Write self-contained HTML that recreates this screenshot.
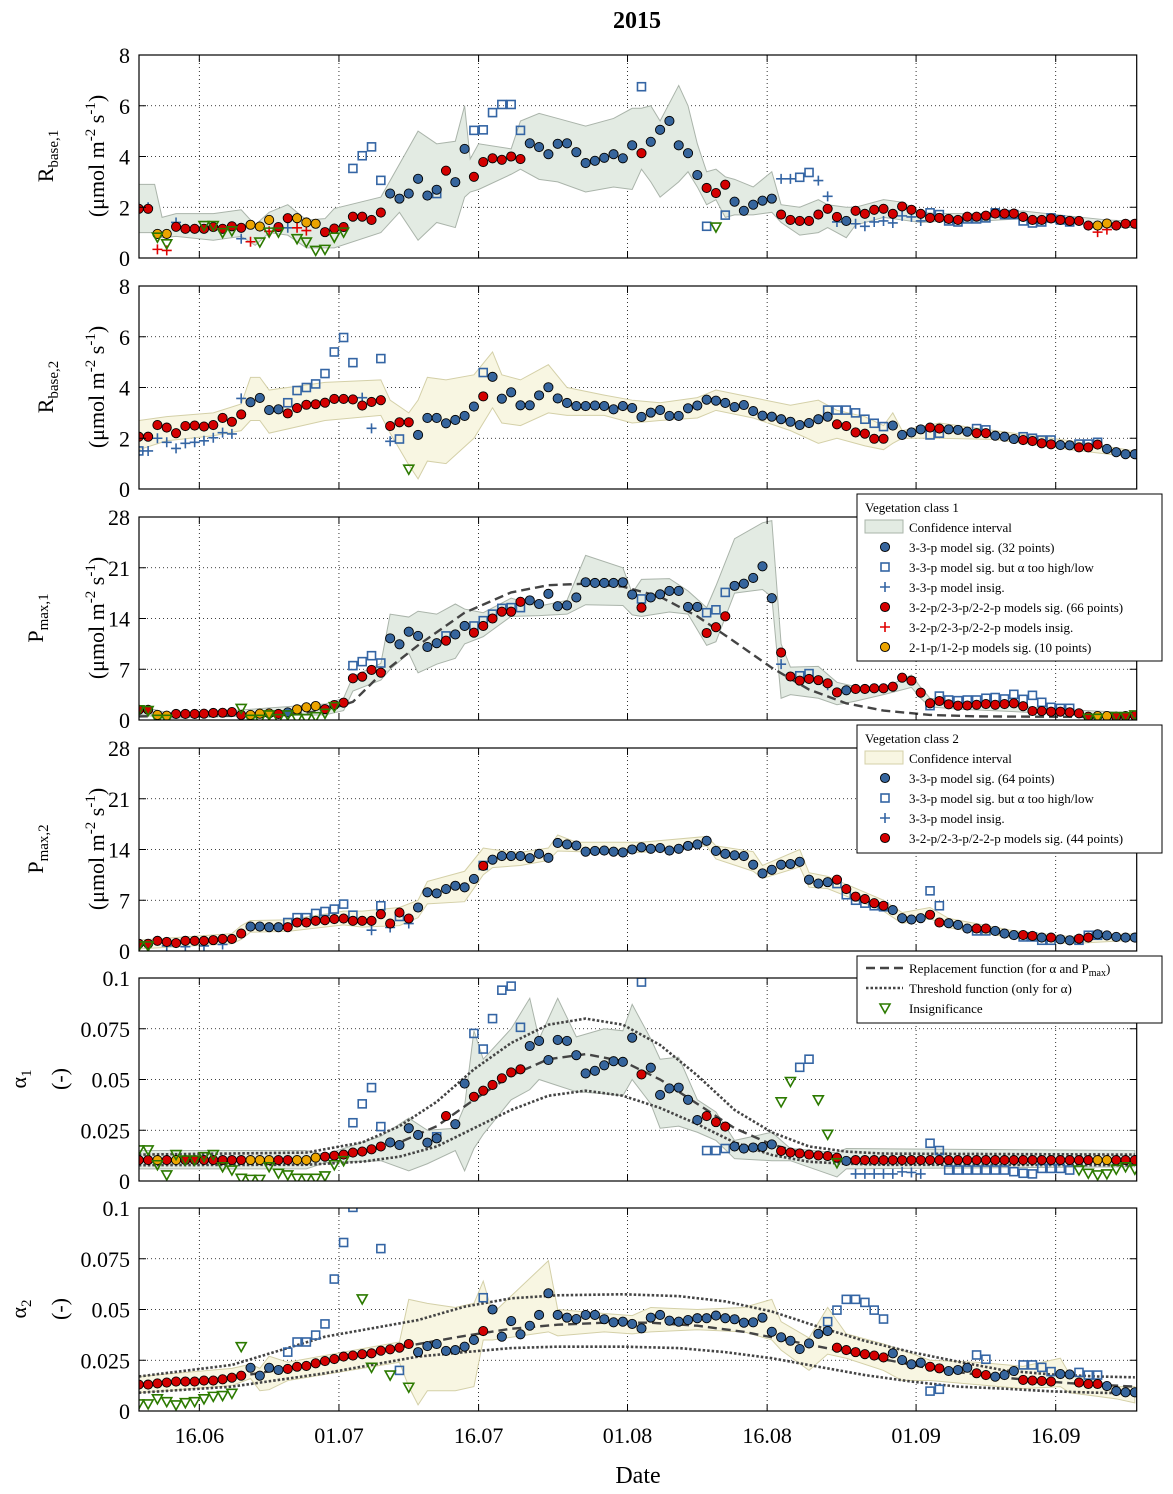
<!DOCTYPE html>
<html><head><meta charset="utf-8"><style>
html,body{margin:0;padding:0;background:#fff}
svg{display:block;font-family:"Liberation Serif","DejaVu Serif",serif}
</style></head><body>
<svg id="chart" xmlns="http://www.w3.org/2000/svg" width="1173" height="1494" viewBox="0 0 1173 1494">
<rect x="0" y="0" width="1173" height="1494" fill="#fff"/>
<text x="637" y="28" text-anchor="middle" font-size="24" font-weight="bold">2015</text>
<text x="638" y="1483" text-anchor="middle" font-size="24">Date</text>
<g id="layer"></g>
<g font-size="22">
 <text transform="translate(53,156) rotate(-90)" text-anchor="middle">R<tspan font-size="15" dy="5">base,1</tspan></text>
 <text transform="translate(104,156) rotate(-90)" text-anchor="middle">(μmol m<tspan font-size="15" dy="-9">-2</tspan><tspan dy="9"> s</tspan><tspan font-size="15" dy="-9">-1</tspan><tspan dy="9">)</tspan></text>
</g>
<g font-size="22">
 <text transform="translate(53,387) rotate(-90)" text-anchor="middle">R<tspan font-size="15" dy="5">base,2</tspan></text>
 <text transform="translate(104,387) rotate(-90)" text-anchor="middle">(μmol m<tspan font-size="15" dy="-9">-2</tspan><tspan dy="9"> s</tspan><tspan font-size="15" dy="-9">-1</tspan><tspan dy="9">)</tspan></text>
</g>
<g font-size="22">
 <text transform="translate(43,618) rotate(-90)" text-anchor="middle">P<tspan font-size="15" dy="5">max,1</tspan></text>
 <text transform="translate(104,618) rotate(-90)" text-anchor="middle">(μmol m<tspan font-size="15" dy="-9">-2</tspan><tspan dy="9"> s</tspan><tspan font-size="15" dy="-9">-1</tspan><tspan dy="9">)</tspan></text>
</g>
<g font-size="22">
 <text transform="translate(43,849) rotate(-90)" text-anchor="middle">P<tspan font-size="15" dy="5">max,2</tspan></text>
 <text transform="translate(104,849) rotate(-90)" text-anchor="middle">(μmol m<tspan font-size="15" dy="-9">-2</tspan><tspan dy="9"> s</tspan><tspan font-size="15" dy="-9">-1</tspan><tspan dy="9">)</tspan></text>
</g>
<g font-size="22">
 <text transform="translate(26,1079) rotate(-90)" text-anchor="middle">α<tspan font-size="15" dy="5">1</tspan></text>
 <text transform="translate(67,1079) rotate(-90)" text-anchor="middle">(-)</text>
</g>
<g font-size="22">
 <text transform="translate(26,1309) rotate(-90)" text-anchor="middle">α<tspan font-size="15" dy="5">2</tspan></text>
 <text transform="translate(67,1309) rotate(-90)" text-anchor="middle">(-)</text>
</g>
</svg>
<script>
// ---------- x axis data ----------
const xTickDays = [0, 15, 30, 46, 61, 77, 92];
const xTickLabels = ["16.06", "01.07", "16.07", "01.08", "16.08", "01.09", "16.09"];

// ---------- Panel 1: R_base,1 ----------
const p1Type = "rroorrrrrr"+"rrooorrooo"+"rrrrrrrbbb"+"bbbrbbrrrr"+"rrbbbbbbbb"+"bbbbrbbbbb"+"brrrbbbbbr"+"rrrrrrbrrr"+"rrrrrrrrrr"+"rrrrrrrrrr"+"rrroorrr";
const p1Val = [1.94,1.94,0.95,0.95,1.23,1.15,1.15,1.15,1.22,1.15,1.25,1.19,1.31,1.24,1.5,1.22,1.57,1.57,1.4,1.35,1.02,1.16,1.22,1.63,1.63,1.5,1.79,2.54,2.34,2.54,3.12,2.46,2.69,3.44,2.99,4.3,3.2,3.78,3.93,3.87,4.0,3.9,4.52,4.37,4.09,4.5,4.52,4.17,3.74,3.83,3.95,4.09,3.93,4.44,4.13,4.58,5.05,5.4,4.44,4.13,3.27,2.76,2.56,2.89,2.22,1.86,2.1,2.26,2.34,1.71,1.5,1.46,1.46,1.71,1.94,1.62,1.46,1.86,1.74,1.9,1.94,1.74,2.03,1.9,1.74,1.58,1.58,1.54,1.5,1.63,1.63,1.67,1.75,1.75,1.75,1.62,1.5,1.5,1.56,1.5,1.46,1.46,1.28,1.28,1.36,1.28,1.35,1.35];
const p1AltI = [0,1,2,3,4,11,12,14,16,17,18,23,24,25,26,32,36,37,38,39,40,41,54,61,63,69,70,71,72,73,74,75,77,78,79,80,81,82,83,84,85,86,87,88,89,90,91,92,93,94,95,96,97,98,99,100,103,104];
const p1AltT = "ppqqppqqpqq"+"ssssssssssssss"+"ppss"+"ppppppppppp"+"ssssssssssssssss"+"qq";
const p1AltV = [2.0,2.0,0.34,0.3,1.4,0.76,0.64,1.05,1.19,1.19,1.08,3.53,4.03,4.38,3.06,2.54,5.03,5.05,5.73,6.05,6.05,5.03,6.75,1.25,1.69,3.12,3.12,3.18,3.37,3.05,2.43,1.42,1.35,1.25,1.42,1.46,1.38,1.66,1.62,1.46,1.78,1.71,1.46,1.42,1.54,1.54,1.58,1.78,1.71,1.71,1.46,1.38,1.42,1.58,1.5,1.42,1.02,1.12];
const p1TriI = [2,3,7,8,9,10,13,14,15,17,18,19,20,21,22,62];
const p1TriV = [0.82,0.56,1.28,1.28,1.0,1.07,0.63,1.02,1.02,0.76,0.63,0.3,0.34,0.82,1.02,1.22];
const p1BandI = [0,1.7,2.5,4,8,11,12.5,14,16,18,20,21,26,28,30,32,34,35,35.6,36.5,40,41,43,45,48,51,53,54,55,56,58,59,60,61,62,63,64,66,68,69,71,73,74,76,77,80,82,84,86,90,95,100,104,107];
const p1BandLo = [1.0,1.0,0.8,0.85,0.7,0.85,0.5,1.0,0.9,0.4,0.4,0.4,1.0,1.8,0.7,1.4,1.2,2.4,2.6,2.7,3.3,3.5,3.1,3.0,2.6,2.8,2.7,3.5,3.0,2.4,3.0,3.4,2.8,2.1,2.3,1.6,1.7,1.7,1.8,1.4,0.9,1.0,1.2,0.8,1.3,1.6,1.5,1.4,1.45,1.45,1.55,1.4,1.2,1.2];
const p1BandHi = [2.9,2.9,1.6,1.75,1.75,1.9,1.3,1.8,2.1,1.5,1.55,1.95,2.4,3.7,5.0,4.5,4.6,6.0,3.9,4.5,4.3,5.4,5.7,5.5,5.2,5.5,5.9,5.9,6.0,5.4,6.8,6.0,4.5,3.4,3.5,3.2,3.1,2.8,3.4,2.1,2.0,2.3,2.1,2.0,2.0,2.3,2.2,1.8,1.75,1.75,1.85,1.65,1.5,1.45];

// ---------- Panel 2: R_base,2 ----------
const p2Type = "rrrrrrrrrr"+"rrbbbbrrrr"+"rrrrrrrrrr"+"bbbbbbbrbb"+"bbbbbbbbbb"+"bbbbbbbbbb"+"bbbbbbbbbb"+"bbbbbrrrrr"+"rbbbbrrbbb"+"rrbbbrrrrb"+"brrrbbbb";
const p2Val = [2.06,2.06,2.52,2.42,2.2,2.48,2.5,2.46,2.52,2.8,2.65,2.94,3.42,3.59,3.11,3.14,2.98,3.19,3.32,3.34,3.4,3.55,3.55,3.53,3.29,3.43,3.5,2.48,2.63,2.63,2.13,2.8,2.8,2.59,2.72,2.88,3.25,3.65,4.42,3.56,3.81,3.3,3.3,3.69,4.01,3.57,3.39,3.27,3.27,3.29,3.27,3.14,3.27,3.19,2.84,3.01,3.11,2.88,2.88,3.18,3.29,3.52,3.48,3.39,3.23,3.31,3.07,2.89,2.85,2.75,2.65,2.52,2.6,2.75,2.85,2.55,2.48,2.23,2.18,1.98,1.98,2.5,2.13,2.23,2.35,2.42,2.38,2.35,2.33,2.26,2.2,2.2,2.1,2.06,1.97,1.93,1.89,1.8,1.76,1.73,1.72,1.64,1.64,1.75,1.58,1.45,1.37,1.37];
const p2AltI = [0,0,1,2,3,4,5,6,7,8,9,10,11,16,17,18,19,20,21,22,23,24,25,26,27,28,37,74,75,76,77,78,79,80,85,86,90,91,95,96,97,98,101,102,103];
const p2AltT = "s"+"pppppppppppp"+"ssssssss"+"ppsps"+"s"+"sssssss"+"ss"+"ss"+"ssss"+"sss";
const p2AltV = [1.5,1.5,1.5,2.0,1.84,1.6,1.8,1.84,1.9,2.02,2.22,2.17,3.57,3.4,3.88,4.0,4.14,4.55,5.4,5.97,4.98,3.6,2.39,5.14,1.88,1.97,4.59,3.11,3.11,3.11,3.0,2.75,2.59,2.46,2.13,2.2,2.38,2.33,2.06,2.0,1.93,1.93,1.77,1.77,1.84];
const p2TriI = [29];
const p2TriV = [0.78];
const p2BandI = [0,3,8,11,12,13,14,20,26,27,29,30,31,33,36,38,39,41,44,46,50,53,56,60,62,66,70,73,75,78,80,81,82,86,92,100,107];
const p2BandLo = [1.55,1.9,2.1,2.3,2.7,2.7,2.2,2.7,2.9,2.2,0.95,0.4,1.1,1.0,2.0,3.2,2.6,2.5,3.0,2.9,2.9,2.6,2.7,2.8,3.1,2.8,2.3,1.8,2.0,1.7,1.55,1.8,2.0,2.0,1.95,1.55,1.25];
const p2BandHi = [2.7,2.85,3.0,3.35,4.4,4.4,3.9,4.2,4.3,3.5,3.0,3.5,4.4,4.3,4.5,5.4,4.5,4.3,4.9,4.0,3.7,3.5,3.4,3.6,3.9,3.6,3.3,3.5,3.1,2.85,2.5,3.0,2.3,2.6,2.3,1.9,1.5];

// ---------- Panel 3: P_max,1 ----------
const p3Type = "rroorrrrrr"+"rrooorbooo"+"rrrrrrrbbb"+"bbbrbbrrrr"+"rrbbbbbbbb"+"bbbbrbbbbb"+"brrrbbbbbr"+"rrrrrrbrrr"+"rrrrrrrrrr"+"rrrrrrrrrr"+"rrroorrr";
const p3Val = [1.4,1.4,0.7,0.6,0.83,0.83,0.83,0.87,0.97,1.0,1.1,0.7,0.7,0.87,0.9,0.83,1.05,1.47,1.75,1.93,1.5,2.07,2.39,5.75,5.98,6.9,6.53,11.26,10.44,12.18,11.6,10.07,10.6,10.94,11.8,12.97,12.05,12.97,14.0,14.94,14.94,16.3,16.5,16.0,17.4,15.7,15.8,16.9,19.0,18.9,18.9,18.9,19.0,17.3,15.5,16.9,17.33,17.8,17.8,15.6,15.6,12.0,12.8,14.3,18.5,18.8,19.6,21.2,16.8,9.3,6.0,5.43,5.66,5.5,5.06,3.8,4.1,4.28,4.28,4.37,4.37,4.6,5.84,5.43,3.77,2.3,2.62,2.16,1.98,2.0,2.1,2.2,2.1,2.2,2.3,1.9,1.24,1.24,1.15,1.15,1.06,0.92,0.46,0.55,0.55,0.46,0.55,0.6];
const p3AltI = [23,24,25,26,33,36,37,38,39,40,41,54,61,62,63,69,71,72,74,85,86,87,88,89,90,91,92,93,94,95,96,97,98,99,100];
const p3AltT = "sssssssssssssss"+"pssp"+"ssssssssssssssss";
const p3AltV = [7.5,8.05,8.87,7.86,11.6,12.97,13.7,14.6,15.4,15.5,15.5,16.7,14.8,15.2,17.6,7.7,6.1,6.4,4.8,1.98,3.3,2.76,2.67,2.76,2.76,3.0,3.1,2.9,3.54,2.85,3.4,2.44,1.75,1.61,1.61];
const p3TriI = [0,1,2,3,11,12,13,14,15,16,17,18,19,20,21,102,103,105,106,107];
const p3TriV = [1.4,1.3,0.1,0.1,1.6,0.1,0.1,0.7,0.2,0.7,0.2,0.2,0.46,0.92,1.84,0.23,0.23,0.46,0.46,0.7];
const p3BandI = [0,3,10,20,22,23,26,27,29,30,32,34,35,37,40,43,46,48,52,53,54,57,59,61,62,64,67,68,69,70,73,75,77,80,83,84,85,88,100,107];
const p3BandLo = [0.8,0.2,0.5,0.7,1.3,4.0,5.5,7.0,9.2,6.5,7.7,8.5,10.5,11.5,14.3,14.4,14.6,15.9,15.8,14.5,14.3,14.9,14.6,10.3,10.8,17.5,18.0,17.0,3.0,3.5,3.0,2.1,2.6,3.5,4.5,3.0,1.8,1.5,0.8,0.3];
const p3BandHi = [2.0,1.0,1.3,2.2,3.0,6.0,7.8,14.6,14.2,15.0,14.6,16.0,15.3,14.8,16.8,15.7,16.5,22.7,21.0,17.5,19.4,19.5,17.8,15.5,18.5,25.0,27.2,27.5,10.5,7.3,7.4,5.2,4.6,4.4,6.2,4.5,3.0,2.5,1.4,1.0];
const p3RepI = [0,15,20,23,26,30,35,40,44,48,52,56,60,64,68,72,76,80,85,90,107];
const p3RepV = [0.5,0.6,1.3,2.5,6.3,10.3,14.8,17.6,18.6,18.8,18.4,17.0,14.3,10.8,7.2,4.2,2.3,1.3,0.7,0.5,0.4];

// ---------- Panel 4: P_max,2 ----------
const p4Type = "rrrrrrrrrr"+"rrbbbbrrrr"+"rrrrrrrrrr"+"bbbbbbbrbb"+"bbbbbbbbbb"+"bbbbbbbbbb"+"bbbbbbbbbb"+"bbbbbrrrrr"+"rbbbbrrbbb"+"rrbbbrrbrb"+"brrbbbbb";
const p4Val = [1.0,1.0,1.4,1.25,1.1,1.4,1.4,1.4,1.5,1.66,1.66,2.4,3.37,3.37,3.28,3.28,3.28,3.93,3.93,4.16,4.25,4.4,4.48,4.16,4.16,4.16,5.08,3.79,5.3,4.48,6.0,8.1,7.95,8.55,9.0,8.78,9.94,11.74,12.6,13.1,13.1,13.1,12.8,13.4,12.85,14.9,14.7,14.55,13.7,13.8,13.86,13.7,13.6,14.0,14.3,14.1,14.2,13.86,14.1,14.5,14.7,15.2,13.8,13.4,13.2,13.1,11.9,10.7,11.2,11.9,12.0,12.3,9.84,9.3,9.5,9.84,8.55,7.5,7.16,6.6,6.24,5.64,4.53,4.34,4.53,5.0,3.93,3.83,3.6,3.1,3.1,3.1,2.77,2.4,2.2,2.2,2.08,1.85,1.85,1.62,1.48,1.7,1.85,2.3,2.15,1.94,1.85,1.85];
const p4AltI = [3,5,7,9,16,17,18,19,20,21,22,23,25,26,27,28,29,37,75,76,77,78,79,80,85,86,90,91,95,96,97,98,101,102,103];
const p4AltT = "pppp"+"ssssssss"+"pspsp"+"s"+"ssssss"+"ss"+"ss"+"ssss"+"sss";
const p4AltV = [0.7,0.6,0.7,0.9,3.93,4.6,4.6,5.18,5.45,5.78,6.47,4.94,2.87,6.24,3.24,4.76,3.79,11.8,9.3,7.76,7.0,6.6,6.24,6.1,8.3,6.24,2.77,2.77,1.94,1.94,1.48,1.48,1.48,2.17,2.17];
const p4TriI = [0,1];
const p4TriV = [0.7,0.7];
const p4BandI = [0,10,11,12,16,22,24,28,30,31,35,37,38,41,44,45,47,54,61,62,66,67,71,72,74,80,82,85,87,94,100,107];
const p4BandLo = [0.3,1.0,1.6,2.6,2.7,3.6,3.3,3.5,4.6,6.5,6.8,10.5,11.5,11.8,12.5,13.8,13.7,13.6,14.5,12.7,11.0,10.0,11.6,8.8,8.6,5.5,3.8,4.5,3.2,1.8,1.0,1.5];
const p4BandHi = [1.5,2.4,3.5,4.2,4.3,5.5,5.5,6.0,7.0,9.6,11.0,14.2,14.0,13.6,14.2,16.0,15.0,15.0,15.8,14.5,13.7,11.8,14.0,10.8,10.3,7.0,5.3,6.0,4.5,2.8,2.0,2.4];

// ---------- Panel 5: alpha_1 ----------
const p5Type = "rrororrrrr"+"rrooorrooo"+"rrrrrrrbbb"+"bbbrbbrrrr"+"rrbbbbbbbb"+"bbbbrbbbbb"+"brrrbbbbbr"+"rrrrrrbrrr"+"rrrrrrrrrr"+"rrrrrrrrrr"+"rrroorrr";
const p5Val = [0.0103,0.0103,0.0103,0.0103,0.0103,0.0103,0.0103,0.0103,0.0103,0.0103,0.0103,0.0103,0.0103,0.0103,0.0103,0.0103,0.0103,0.0103,0.0103,0.0115,0.012,0.0125,0.013,0.014,0.0145,0.0156,0.017,0.019,0.0177,0.026,0.0227,0.0189,0.021,0.032,0.028,0.048,0.0415,0.0445,0.0473,0.0506,0.0535,0.055,0.0665,0.069,0.0596,0.0695,0.069,0.062,0.053,0.0543,0.057,0.059,0.0587,0.0706,0.0525,0.0558,0.0424,0.0456,0.046,0.040,0.030,0.032,0.029,0.0268,0.017,0.016,0.0165,0.0168,0.018,0.0148,0.014,0.0136,0.013,0.0126,0.0123,0.0115,0.0099,0.0103,0.0103,0.0103,0.0103,0.0103,0.0103,0.0103,0.0103,0.0103,0.0103,0.0103,0.0103,0.0103,0.0103,0.0103,0.0103,0.0103,0.0103,0.0103,0.0103,0.0103,0.0103,0.0103,0.0103,0.0103,0.0103,0.0103,0.0103,0.0103,0.0103,0.0103];
const p5AltI = [23,24,25,26,32,36,37,38,39,40,41,54,61,62,63,71,72,77,78,79,80,81,82,83,84,85,86,87,88,89,90,91,92,93,94,95,96,97,98,99,100];
const p5AltT = "sssssssssssssssss"+"pppppppp"+"ssssssssssssssss";
const p5AltV = [0.0287,0.038,0.046,0.0268,0.0218,0.0727,0.065,0.080,0.094,0.096,0.0757,0.098,0.015,0.015,0.016,0.056,0.060,0.0035,0.0035,0.0035,0.0035,0.0035,0.0045,0.0042,0.0035,0.0186,0.015,0.0054,0.0054,0.0054,0.0054,0.0054,0.0054,0.0054,0.0046,0.0038,0.0035,0.0062,0.0062,0.0062,0.0054];
const p5TriI = [0,1,2,3,4,5,6,7,8,9,10,11,12,13,14,15,16,17,18,19,20,21,22,69,70,73,74,75,101,102,103,104,105,106,107];
const p5TriV = [0.0153,0.0153,0.008,0.003,0.013,0.0103,0.0103,0.012,0.013,0.007,0.0054,0.0013,0.0008,0.0008,0.007,0.0038,0.003,0.0013,0.0013,0.0013,0.0025,0.008,0.010,0.039,0.049,0.040,0.023,0.009,0.0054,0.0038,0.003,0.0035,0.0058,0.007,0.0058];
const p5BandI = [0,18,20,26,29,31,34,35,36,37,40,42,43,45,47,50,52,53,55,56,58,60,62,64,68,70,75,76,107];
const p5BandLo = [0.006,0.006,0.009,0.010,0.005,0.0085,0.015,0.005,0.016,0.023,0.040,0.045,0.050,0.047,0.044,0.043,0.042,0.050,0.038,0.026,0.027,0.024,0.020,0.011,0.010,0.010,0.002,0.006,0.007];
const p5BandHi = [0.015,0.015,0.013,0.022,0.031,0.025,0.026,0.037,0.074,0.060,0.075,0.090,0.070,0.090,0.071,0.075,0.074,0.087,0.070,0.060,0.061,0.040,0.034,0.020,0.024,0.016,0.014,0.016,0.015];
const p5CurveI = [0,18,24,28,32,36,40,44,48,52,56,60,64,68,72,76,80,107];
const p5RepV = [0.0103,0.0105,0.014,0.019,0.027,0.040,0.052,0.060,0.0625,0.059,0.050,0.038,0.026,0.018,0.013,0.011,0.0105,0.0103];
const p5UpV = [0.013,0.014,0.019,0.027,0.039,0.055,0.068,0.077,0.080,0.077,0.067,0.052,0.035,0.024,0.017,0.0145,0.0135,0.013];
const p5LoV = [0.0078,0.008,0.0095,0.012,0.017,0.026,0.035,0.042,0.0445,0.042,0.036,0.028,0.019,0.0128,0.0095,0.0085,0.008,0.0078];

// ---------- Panel 6: alpha_2 ----------
const p6Type = "rrrrrrrrrr"+"rrbbbbrrrr"+"rrrrrrrrrr"+"bbbbbbbrbb"+"bbbbbbbbbb"+"bbbbbbbbbb"+"bbbbbbbbbb"+"bbbbbrrrrr"+"rbbbbrrbbb"+"rrbbbrrrrb"+"brrrbbbb";
const p6Val = [0.013,0.013,0.0136,0.014,0.0145,0.0145,0.0145,0.015,0.015,0.0156,0.0164,0.0174,0.0213,0.0174,0.0213,0.0202,0.0207,0.0218,0.0222,0.0235,0.0246,0.0256,0.0268,0.0273,0.028,0.0284,0.0297,0.0304,0.0312,0.033,0.029,0.032,0.033,0.0296,0.030,0.0317,0.035,0.0394,0.050,0.0366,0.0443,0.0378,0.042,0.0473,0.058,0.0473,0.046,0.0453,0.0473,0.0473,0.0452,0.0437,0.044,0.0429,0.0407,0.046,0.0473,0.0445,0.044,0.0448,0.0457,0.0457,0.047,0.0457,0.0452,0.0435,0.0437,0.046,0.039,0.0363,0.0346,0.0305,0.0333,0.038,0.0394,0.0312,0.030,0.029,0.028,0.0273,0.0264,0.0284,0.0251,0.023,0.0238,0.0218,0.021,0.0197,0.0202,0.0213,0.0186,0.0177,0.0169,0.0177,0.0197,0.0153,0.015,0.0148,0.0145,0.0182,0.018,0.014,0.0133,0.0133,0.0123,0.0098,0.0092,0.0092];
const p6AltI = [16,17,18,19,20,21,22,23,26,28,37,74,75,76,77,78,79,80,85,86,90,91,95,96,97,98,101,102,103];
const p6AltT = "sssssssssssssssssssssssssssss";
const p6AltV = [0.029,0.034,0.034,0.0374,0.0429,0.065,0.083,0.1003,0.080,0.020,0.0558,0.044,0.0497,0.055,0.055,0.0535,0.0497,0.0453,0.0098,0.0107,0.0276,0.0255,0.0227,0.0227,0.0215,0.0194,0.019,0.0177,0.0177];
const p6TriI = [0,1,2,3,4,5,6,7,8,9,10,11,24,25,27,29];
const p6TriV = [0.0035,0.0035,0.006,0.0046,0.003,0.0041,0.0046,0.006,0.0072,0.0076,0.0087,0.0317,0.0552,0.0215,0.0177,0.0117];
const p6BandI = [0,10,12,13,14,16,28,29,30,31,34,36,37,38,44,45,50,53,55,60,65,68,69,72,74,76,80,82,85,90,95,99,100,105,107];
const p6BandLo = [0.009,0.0125,0.016,0.010,0.0105,0.015,0.024,0.012,0.003,0.010,0.010,0.012,0.035,0.035,0.039,0.037,0.039,0.038,0.039,0.040,0.039,0.035,0.030,0.020,0.028,0.026,0.020,0.015,0.015,0.013,0.011,0.012,0.009,0.006,0.004];
const p6BandHi = [0.017,0.021,0.023,0.021,0.027,0.024,0.034,0.055,0.054,0.053,0.051,0.053,0.064,0.048,0.074,0.050,0.048,0.047,0.051,0.050,0.051,0.055,0.044,0.036,0.051,0.038,0.033,0.030,0.025,0.024,0.022,0.026,0.018,0.012,0.012];
const p6RepI = [0,10,20,30,35,40,45,50,55,60,65,70,75,80,85,90,95,100,107];
const p6RepV = [0.013,0.0165,0.024,0.033,0.037,0.0405,0.0425,0.0435,0.0435,0.042,0.039,0.0345,0.030,0.0255,0.021,0.018,0.0155,0.0137,0.012];
const p6ThrI = [0,10,20,30,35,40,45,52,58,63,68,73,78,83,88,93,98,103,107];
const p6UpV = [0.017,0.0227,0.0366,0.0448,0.0514,0.0555,0.057,0.0575,0.0566,0.054,0.049,0.0415,0.0345,0.029,0.0243,0.020,0.018,0.017,0.0166];
const p6LoV = [0.009,0.012,0.0186,0.0268,0.029,0.031,0.0317,0.0317,0.031,0.029,0.026,0.0218,0.0177,0.0145,0.012,0.011,0.0097,0.009,0.0087];

// ---------- drawing ----------
const NS = "http://www.w3.org/2000/svg";
const layer = document.getElementById('layer');
const PL = 139, PR = 1136.7, PH = 203;
const DAY0 = -6.48, DAY1 = 100.7;
function xDay(d){ return PL + (d - DAY0) / (DAY1 - DAY0) * (PR - PL); }
function xIdx(i){ return xDay(i - 6.5); }
function mk(tag, attrs, parent){
  const e = document.createElementNS(NS, tag);
  for (const k in attrs) e.setAttribute(k, attrs[k]);
  (parent || layer).appendChild(e);
  return e;
}
const BLUE = "#36659d", RED = "#d40000", ORANGE = "#eba400", SQ = "#3465a4", GREEN = "#2c7a00";

function drawMarker(g, t, x, y){
  let e;
  if (t === 'b' || t === 'r' || t === 'o'){
    e = mk('circle', {cx:x, cy:y, r:4.6, fill: t==='b'?BLUE:(t==='r'?RED:ORANGE), stroke:'#000', 'stroke-width':0.9}, g);
    
    
  } else if (t === 's'){
    e = mk('rect', {x:x-4, y:y-4, width:8, height:8, fill:'none', stroke:SQ, 'stroke-width':1.6}, g);
    
    
  } else if (t === 'p' || t === 'q'){
    e = mk('path', {d:`M${x-5},${y}H${x+5}M${x},${y-5}V${y+5}`, stroke: t==='p'?SQ:'#e00000', 'stroke-width':1.6, fill:'none'}, g);
    
    
  } else if (t === 't'){
    e = mk('path', {d:`M${x-5},${y-4}L${x+5},${y-4}L${x},${y+5}Z`, stroke:GREEN, 'stroke-width':1.6, fill:'none'}, g);
    
    
  }
  return e;
}

const panels = [
 {key:'p1', top:55, ymax:8, ticks:[0,2,4,6,8], tickLab:["0","2","4","6","8"], band:'#e3ebe3', bandEdge:'#aab4aa',
  type:p1Type, val:p1Val, altI:p1AltI, altT:p1AltT, altV:p1AltV, triI:p1TriI, triV:p1TriV, bI:p1BandI, bLo:p1BandLo, bHi:p1BandHi, curves:[]},
 {key:'p2', top:286, ymax:8, ticks:[0,2,4,6,8], tickLab:["0","2","4","6","8"], band:'#f8f6e2', bandEdge:'#d4d0a8',
  type:p2Type, val:p2Val, altI:p2AltI, altT:p2AltT, altV:p2AltV, triI:p2TriI, triV:p2TriV, bI:p2BandI, bLo:p2BandLo, bHi:p2BandHi, curves:[]},
 {key:'p3', top:517, ymax:28, ticks:[0,7,14,21,28], tickLab:["0","7","14","21","28"], band:'#e3ebe3', bandEdge:'#aab4aa',
  type:p3Type, val:p3Val, altI:p3AltI, altT:p3AltT, altV:p3AltV, triI:p3TriI, triV:p3TriV, bI:p3BandI, bLo:p3BandLo, bHi:p3BandHi,
  curves:[{I:p3RepI, V:p3RepV, dash:'9,5', w:2.4}]},
 {key:'p4', top:748, ymax:28, ticks:[0,7,14,21,28], tickLab:["0","7","14","21","28"], band:'#f8f6e2', bandEdge:'#d4d0a8',
  type:p4Type, val:p4Val, altI:p4AltI, altT:p4AltT, altV:p4AltV, triI:p4TriI, triV:p4TriV, bI:p4BandI, bLo:p4BandLo, bHi:p4BandHi, curves:[]},
 {key:'p5', top:978, ymax:0.1, ticks:[0,0.025,0.05,0.075,0.1], tickLab:["0","0.025","0.05","0.075","0.1"], band:'#e3ebe3', bandEdge:'#aab4aa',
  type:p5Type, val:p5Val, altI:p5AltI, altT:p5AltT, altV:p5AltV, triI:p5TriI, triV:p5TriV, bI:p5BandI, bLo:p5BandLo, bHi:p5BandHi,
  curves:[{I:p5CurveI, V:p5UpV, dash:'2.5,2', w:2.6},{I:p5CurveI, V:p5LoV, dash:'2.5,2', w:2.6},{I:p5CurveI, V:p5RepV, dash:'9,5', w:2.4}]},
 {key:'p6', top:1208, ymax:0.1, ticks:[0,0.025,0.05,0.075,0.1], tickLab:["0","0.025","0.05","0.075","0.1"], band:'#f8f6e2', bandEdge:'#d4d0a8',
  type:p6Type, val:p6Val, altI:p6AltI, altT:p6AltT, altV:p6AltV, triI:p6TriI, triV:p6TriV, bI:p6BandI, bLo:p6BandLo, bHi:p6BandHi,
  curves:[{I:p6ThrI, V:p6UpV, dash:'2.5,2', w:2.6},{I:p6ThrI, V:p6LoV, dash:'2.5,2', w:2.6},{I:p6RepI, V:p6RepV, dash:'9,5', w:2.4}]}
];

panels.forEach((P, pi) => {
  const top = P.top, bot = top + PH;
  const ys = v => bot - v / P.ymax * PH;
  const g = mk('g', {});
  
  
  const cp = mk('clipPath', {id:'clip'+pi}, g);
  mk('rect', {x:PL, y:top, width:PR-PL, height:PH}, cp);
  const grid = mk('g', {stroke:'#000', 'stroke-width':0.8, 'stroke-dasharray':'1,3'}, g);
  
  
  xTickDays.forEach(d => mk('line', {x1:xDay(d), x2:xDay(d), y1:top, y2:bot}, grid));
  P.ticks.forEach(t => mk('line', {x1:PL, x2:PR, y1:ys(t), y2:ys(t)}, grid));
  const plot = mk('g', {'clip-path':`url(#clip${pi})`}, g);
  let pts = [];
  P.bI.forEach((i,k) => pts.push(xIdx(i)+','+ys(P.bHi[k])));
  for (let k = P.bI.length-1; k >= 0; k--) pts.push(xIdx(P.bI[k])+','+ys(P.bLo[k]));
  const band = mk('polygon', {points:pts.join(' '), fill:P.band, stroke:P.bandEdge, 'stroke-width':1}, plot);
  
  
  P.curves.forEach(c => {
    const d = c.I.map((i,k) => (k?'L':'M') + xIdx(i) + ',' + ys(c.V[k])).join('');
    const pth = mk('path', {d:d, fill:'none', stroke:'#444', 'stroke-width':c.w, 'stroke-dasharray':c.dash}, plot);
    
    
  });
  P.altI.forEach((i,k) => drawMarker(plot, P.altT[k], xIdx(i), ys(P.altV[k])));
  for (let i = 0; i < P.val.length; i++) drawMarker(plot, P.type[i], xIdx(i), ys(P.val[i]));
  P.triI.forEach((i,k) => drawMarker(plot, 't', xIdx(i), ys(P.triV[k])));
  const fr = mk('rect', {x:PL, y:top, width:PR-PL, height:PH, fill:'none', stroke:'#000', 'stroke-width':1.2}, g);
  
  
  const tk = mk('g', {stroke:'#000', 'stroke-width':1}, g);
  xTickDays.forEach(d => { const x = xDay(d);
    mk('line', {x1:x, x2:x, y1:bot, y2:bot-7}, tk); mk('line', {x1:x, x2:x, y1:top, y2:top+7}, tk); });
  P.ticks.forEach(t => { const y = ys(t);
    mk('line', {x1:PL, x2:PL+7, y1:y, y2:y}, tk); mk('line', {x1:PR, x2:PR-7, y1:y, y2:y}, tk); });
  P.ticks.forEach((t,k) => {
    const tl = mk('text', {x:130, y:ys(t)+8, 'text-anchor':'end', 'font-size':22}, g);
    tl.textContent = P.tickLab[k];
    
    
  });
});

xTickDays.forEach((d,k) => {
  const t = mk('text', {x:xDay(d), y:1443, 'text-anchor':'middle', 'font-size':22});
  t.textContent = xTickLabels[k];
  
  
});

// legends
(function(){
  const svg = document.getElementById('chart');
  function el(tag, a, p){ const e = document.createElementNS(NS, tag); for (const k in a) e.setAttribute(k, a[k]); (p||svg).appendChild(e); return e; }
  function txt(p, x, y, s){ const t = el('text', {x:x, y:y, 'font-size':13}, p); t.textContent = s; return t; }
  let g = el('g', {});
  
  
  el('rect', {x:857, y:494, width:305, height:167, fill:'#fff', stroke:'#000', 'stroke-width':1}, g);
  txt(g, 865, 512, 'Vegetation class 1');
  el('rect', {x:865, y:520, width:38, height:13, fill:'#e3ebe3', stroke:'#aab4aa'}, g);
  txt(g, 909, 532, 'Confidence interval');
  const l1 = [['b','3-3-p model sig. (32 points)'],['s','3-3-p model sig. but α too high/low'],['p','3-3-p model insig.'],['r','3-2-p/2-3-p/2-2-p models sig. (66 points)'],['q','3-2-p/2-3-p/2-2-p models insig.'],['o','2-1-p/1-2-p models sig. (10 points)']];
  l1.forEach((e,k) => { drawMarker(g, e[0], 885, 547+20*k); txt(g, 909, 552+20*k, e[1]); });
  g = el('g', {});
  
  
  el('rect', {x:857, y:725, width:305, height:128, fill:'#fff', stroke:'#000', 'stroke-width':1}, g);
  txt(g, 865, 743, 'Vegetation class 2');
  el('rect', {x:865, y:751, width:38, height:13, fill:'#f8f6e2', stroke:'#d4d0a8'}, g);
  txt(g, 909, 763, 'Confidence interval');
  const l2 = [['b','3-3-p model sig. (64 points)'],['s','3-3-p model sig. but α too high/low'],['p','3-3-p model insig.'],['r','3-2-p/2-3-p/2-2-p models sig. (44 points)']];
  l2.forEach((e,k) => { drawMarker(g, e[0], 885, 778+20*k); txt(g, 909, 783+20*k, e[1]); });
  g = el('g', {});
  
  
  el('rect', {x:857, y:956, width:305, height:67, fill:'#fff', stroke:'#000', 'stroke-width':1}, g);
  el('line', {x1:866, x2:903, y1:968, y2:968, stroke:'#444', 'stroke-width':2.4, 'stroke-dasharray':'9,5'}, g);
  const r = txt(g, 909, 973, 'Replacement function (for α and P');
  const sub = el('tspan', {'font-size':10, dy:3}, r); sub.textContent = 'max';
  const cl = el('tspan', {dy:-3}, r); cl.textContent = ')';
  el('line', {x1:866, x2:903, y1:988, y2:988, stroke:'#444', 'stroke-width':2.6, 'stroke-dasharray':'2.5,2'}, g);
  txt(g, 909, 993, 'Threshold function (only for α)');
  drawMarker(g, 't', 885, 1008);
  txt(g, 909, 1013, 'Insignificance');
})();
</script>
</body></html>
